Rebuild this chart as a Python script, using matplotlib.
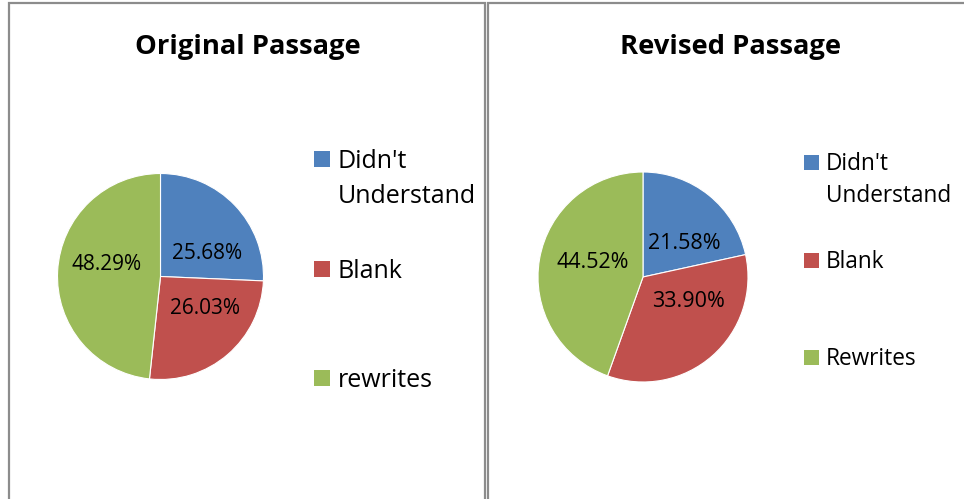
import numpy as np
import matplotlib
matplotlib.use('Agg')
import matplotlib.pyplot as plt
from matplotlib.patches import Rectangle

plt.rcParams['font.family'] = ['Open Sans', 'DejaVu Sans']

# data
titles = ['Original Passage', 'Revised Passage']
legend_labels = [["Didn't\nUnderstand", 'Blank', 'rewrites'],
                 ["Didn't\nUnderstand", 'Blank', 'Rewrites']]
original_pct = [25.68, 26.03, 48.29]
revised_pct = [21.58, 33.90, 44.52]
colors = ['#4F81BD', '#C0504D', '#9BBB59']

# label positions (data units, pie radius = 1), Excel "best fit" style
label_pos = [[(0.45, 0.22), (0.43, -0.31), (-0.52, 0.12)],
             [(0.39, 0.32), (0.43, -0.23), (-0.48, 0.14)]]

W, H = 964, 499
fig = plt.figure(figsize=(W / 100, H / 100), dpi=100)

def px(x, y):
    return x / W, 1 - y / H

# panel frames
for x0, x1 in [(9, 485), (488, 970)]:
    fig.patches.append(Rectangle(px(x0, 520), (x1 - x0) / W, 517 / H,
                                 transform=fig.transFigure, fill=False,
                                 edgecolor='#8c8c8c', linewidth=1.6))

# pie layout in pixels: center x, center y, radius
pies = [(160.5, 276.5, 103), (643, 277, 105)]
title_x = [248, 730]
leg = [dict(sq_x=314, sq=16, tx=338, ys=[159, 269, 378], fs=18, ls=1.55),
       dict(sq_x=804, sq=15, tx=826, ys=[162, 260, 357], fs=16.3, ls=1.45)]
pct_fs = [15, 15.5]

for i, vals in enumerate([original_pct, revised_pct]):
    cx, cy, r = pies[i]
    ax = fig.add_axes([(cx - r) / W, (H - cy - r) / H, 2 * r / W, 2 * r / H])
    wedges, texts, autotexts = ax.pie(vals, colors=colors, startangle=90,
                                      counterclock=False, radius=1,
                                      autopct='%.2f%%',
                                      wedgeprops=dict(edgecolor='white', linewidth=0.8),
                                      textprops=dict(fontsize=pct_fs[i], color='black'))
    for t, p in zip(autotexts, label_pos[i]):
        t.set_position(p)
        t.set_ha('center')
        t.set_va('center')
    ax.set_xlim(-1, 1)
    ax.set_ylim(-1, 1)
    ax.set_aspect('equal')
    ax.axis('off')

    fig.text(*px(title_x[i], 47), titles[i], ha='center', va='center',
             fontsize=19.7, fontweight='bold')

    L = leg[i]
    for lab, y, c in zip(legend_labels[i], L['ys'], colors):
        s = L['sq']
        fig.patches.append(Rectangle(px(L['sq_x'], y + s / 2), s / W, s / H,
                                     transform=fig.transFigure, facecolor=c,
                                     edgecolor='none'))
        fig.text(*px(L['tx'], y - 10), lab, ha='left', va='top',
                 fontsize=L['fs'], linespacing=L['ls'])

fig.savefig('out.png', dpi=100)
